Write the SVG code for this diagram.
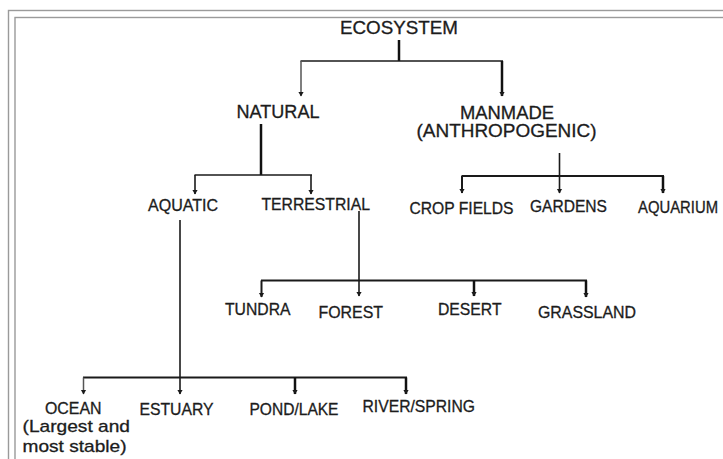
<svg xmlns="http://www.w3.org/2000/svg" width="723" height="459" viewBox="0 0 723 459">
<defs>
<style>
text{font-family:"Liberation Sans",Arial,sans-serif;fill:#1c1c1c;stroke:#1c1c1c;stroke-width:0.3;}
.t18{font-size:18px;}
.t16{font-size:16px;}
.t17{font-size:17px;}
.frame{fill:none;stroke:#9a9a9a;stroke-width:1.4;}
.c{fill:none;stroke:#1a1a1a;stroke-width:1.6;}
.g{fill:none;stroke:#555;stroke-width:1.5;}
.k{fill:none;stroke:#111;stroke-width:2.5;}
.m{fill:none;stroke:#1a1a1a;stroke-width:2;}
</style>
<marker id="ah" markerUnits="userSpaceOnUse" markerWidth="8" markerHeight="8" viewBox="-5 -4 6 8" refX="0" refY="0" orient="auto">
<path d="M0.5,0 L-4,-2.6 L-4,2.6 z" fill="#1a1a1a"/>
</marker>
</defs>
<rect class="frame" x="8.5" y="10.5" width="730" height="460"/>
<rect class="frame" x="15" y="17.5" width="730" height="460"/>
<g id="connectors">
<line class="k" x1="399" y1="40" x2="399" y2="61"/>
<line class="c" x1="300.5" y1="61" x2="503" y2="61"/>
<line class="g" x1="301" y1="61" x2="301" y2="96" marker-end="url(#ah)"/>
<line class="k" x1="502" y1="61" x2="502" y2="96" marker-end="url(#ah)"/>
<line class="k" x1="261" y1="124" x2="261" y2="175"/>
<line class="c" x1="194.5" y1="175" x2="312" y2="175"/>
<line class="c" x1="195" y1="175" x2="195" y2="194" marker-end="url(#ah)"/>
<line class="c" x1="311" y1="175" x2="311" y2="194" marker-end="url(#ah)"/>
<line class="c" x1="559.5" y1="153" x2="559.5" y2="193" marker-end="url(#ah)"/>
<line class="m" x1="461.5" y1="176" x2="664" y2="176"/>
<line class="m" x1="462" y1="176" x2="462" y2="193" marker-end="url(#ah)"/>
<line class="k" x1="663" y1="176" x2="663" y2="193" marker-end="url(#ah)"/>
<line class="c" x1="359" y1="211" x2="359" y2="296" marker-end="url(#ah)"/>
<line class="m" x1="261" y1="280.5" x2="587" y2="280.5"/>
<line class="m" x1="261.5" y1="280.5" x2="261.5" y2="297" marker-end="url(#ah)"/>
<line class="k" x1="474" y1="280.5" x2="474" y2="296" marker-end="url(#ah)"/>
<line class="k" x1="586" y1="280.5" x2="586" y2="297" marker-end="url(#ah)"/>
<line class="c" x1="180" y1="220" x2="180" y2="394" marker-end="url(#ah)"/>
<line class="m" x1="83" y1="377.5" x2="407" y2="377.5"/>
<line class="g" x1="83.5" y1="377.5" x2="83.5" y2="394" marker-end="url(#ah)"/>
<line class="k" x1="295" y1="377.5" x2="295" y2="394" marker-end="url(#ah)"/>
<line class="k" x1="406" y1="377.5" x2="406" y2="394" marker-end="url(#ah)"/>
</g>
<g id="ecosystem"><text class="t18" x="340" y="34" textLength="118" lengthAdjust="spacingAndGlyphs">ECOSYSTEM</text></g>
<g id="natural"><text class="t18" x="236.5" y="118" textLength="83" lengthAdjust="spacingAndGlyphs">NATURAL</text></g>
<g id="manmade">
<text class="t18" x="460" y="118.5" textLength="94" lengthAdjust="spacingAndGlyphs">MANMADE</text>
<text class="t18" x="416.5" y="137" textLength="180" lengthAdjust="spacingAndGlyphs">(ANTHROPOGENIC)</text>
</g>
<g id="aquatic"><text class="t16" x="148" y="211" textLength="70" lengthAdjust="spacingAndGlyphs">AQUATIC</text></g>
<g id="terrestrial"><text class="t16" x="261.5" y="209.5" textLength="108.5" lengthAdjust="spacingAndGlyphs">TERRESTRIAL</text></g>
<g id="cropfields"><text class="t16" x="409.5" y="213.5" textLength="104" lengthAdjust="spacingAndGlyphs">CROP FIELDS</text></g>
<g id="gardens"><text class="t16" x="530" y="212" textLength="77" lengthAdjust="spacingAndGlyphs">GARDENS</text></g>
<g id="aquarium"><text class="t16" x="638" y="213" textLength="80" lengthAdjust="spacingAndGlyphs">AQUARIUM</text></g>
<g id="tundra"><text class="t16" x="225" y="315" textLength="65.5" lengthAdjust="spacingAndGlyphs">TUNDRA</text></g>
<g id="forest"><text class="t16" x="318.5" y="317.5" textLength="64.5" lengthAdjust="spacingAndGlyphs">FOREST</text></g>
<g id="desert"><text class="t16" x="438" y="314.5" textLength="63.5" lengthAdjust="spacingAndGlyphs">DESERT</text></g>
<g id="grassland"><text class="t16" x="538" y="318" textLength="98" lengthAdjust="spacingAndGlyphs">GRASSLAND</text></g>
<g id="ocean">
<text class="t16" x="45" y="413.5" textLength="56.5" lengthAdjust="spacingAndGlyphs">OCEAN</text>
<text class="t17" x="22.5" y="431.5" textLength="107.5" lengthAdjust="spacingAndGlyphs">(Largest and</text>
<text class="t17" x="22.5" y="451.5" textLength="104" lengthAdjust="spacingAndGlyphs">most stable)</text>
</g>
<g id="estuary"><text class="t16" x="139.5" y="414.5" textLength="74" lengthAdjust="spacingAndGlyphs">ESTUARY</text></g>
<g id="pondlake"><text class="t16" x="249.5" y="414.5" textLength="89" lengthAdjust="spacingAndGlyphs">POND/LAKE</text></g>
<g id="riverspring"><text class="t16" x="362.5" y="412" textLength="112.5" lengthAdjust="spacingAndGlyphs">RIVER/SPRING</text></g>
</svg>
